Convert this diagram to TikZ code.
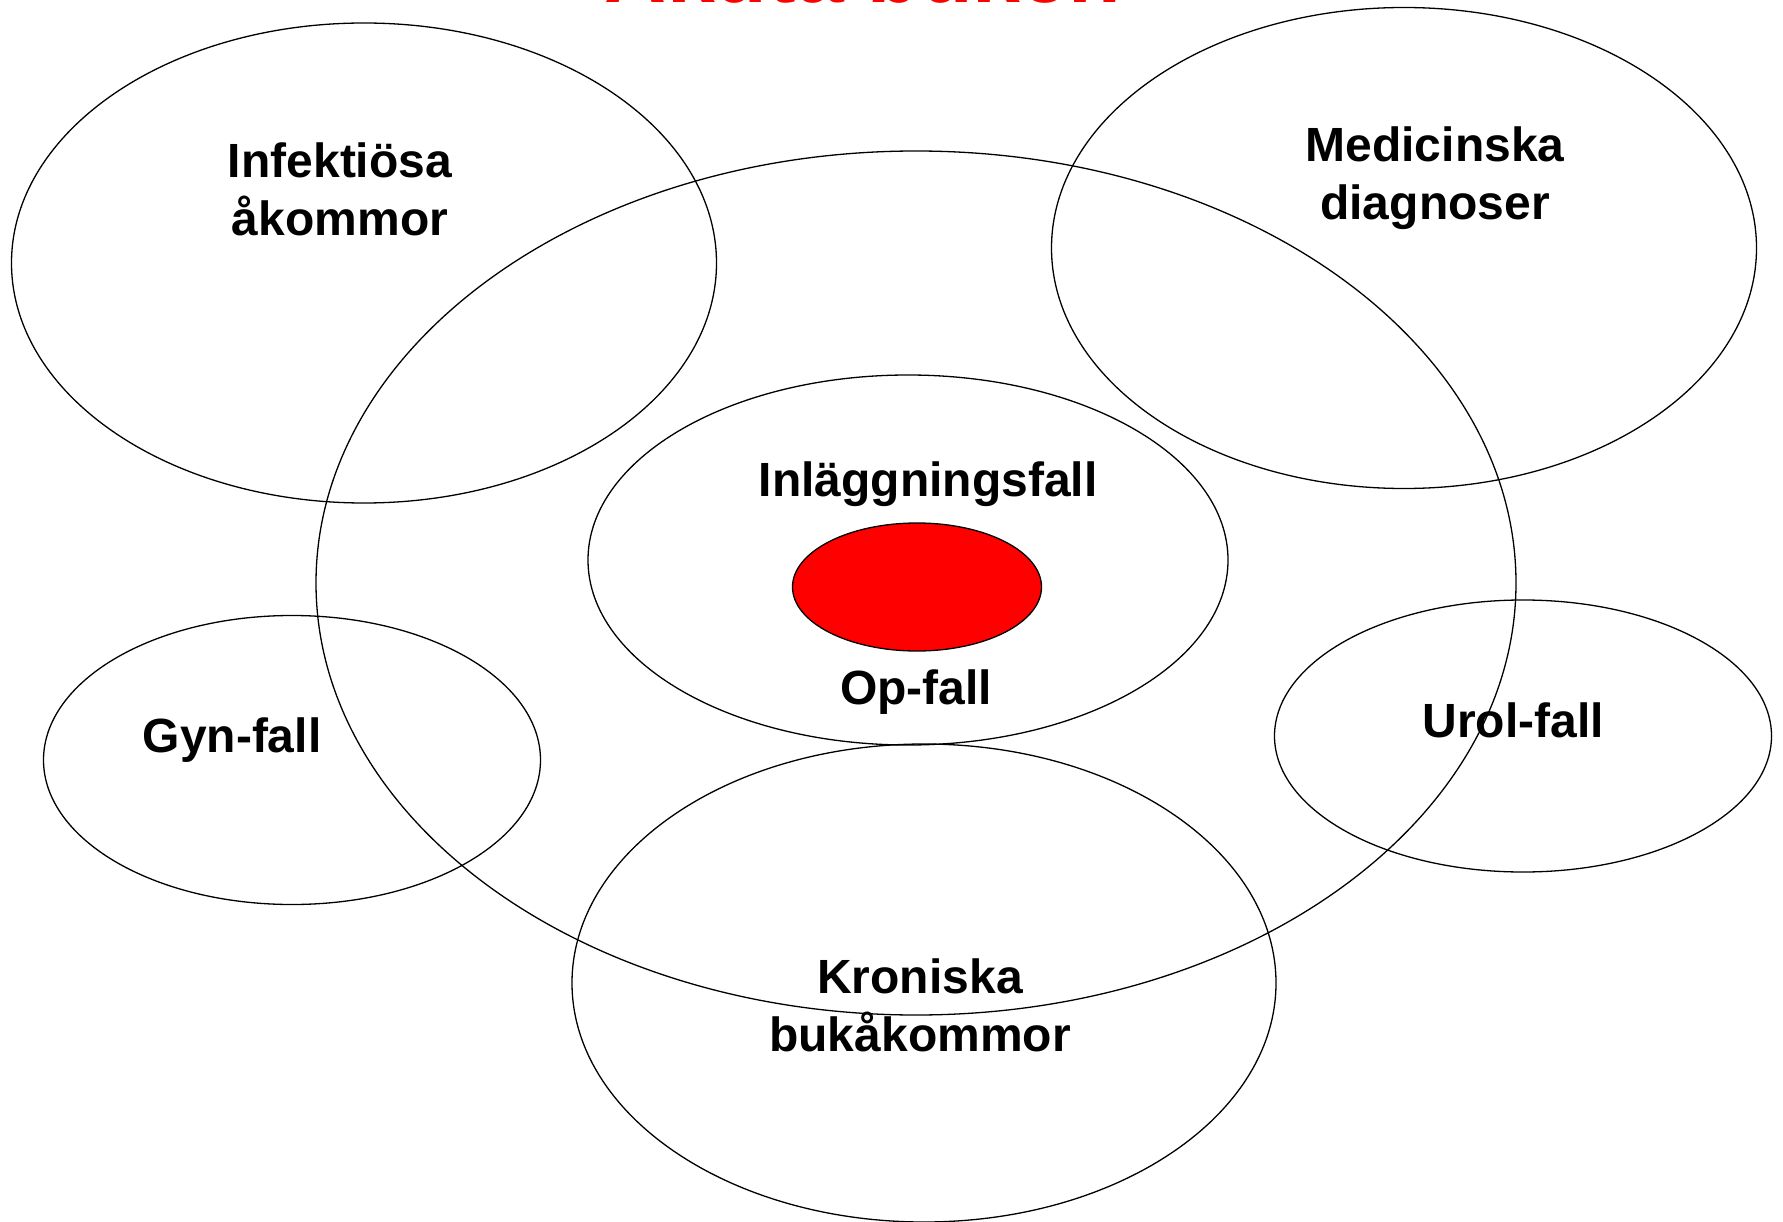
\documentclass[tikz,border=0pt]{standalone}
\usepackage{fontspec}
\setmainfont{Liberation Sans}
\usetikzlibrary{shapes.geometric}
\begin{document}
\begin{tikzpicture}[x=1pt,y=-1pt,
  ring/.style={draw=black,line width=1.3pt,ellipse,inner sep=0pt},
  lbl/.style={font=\fontsize{48}{58}\selectfont\bfseries,align=center,inner sep=0pt},
  ttl/.style={font=\fontsize{86}{100}\selectfont\bfseries,text=red,inner sep=0pt,anchor=base}]
\path[fill=white,use as bounding box] (0,0) rectangle (1783,1222);
\clip (0,0) rectangle (1783,1222);
\node[ttl] (title) at (863,3) {Akuta buken};
\node[ring,minimum width=705pt,minimum height=480pt] (inf) at (364,263) {};
\node[ring,minimum width=705pt,minimum height=481pt] (med) at (1404,248) {};
\node[ring,minimum width=1200pt,minimum height=864pt] (big) at (916,583) {};
\node[ring,minimum width=640pt,minimum height=370pt] (inl) at (908,560) {};
\node[ring,fill=red,minimum width=249pt,minimum height=128pt] (op) at (917,587) {};
\node[ring,minimum width=497pt,minimum height=289pt] (gyn) at (292,760) {};
\node[ring,minimum width=497pt,minimum height=272pt] (uro) at (1523,736) {};
\node[ring,minimum width=704pt,minimum height=478pt] (kro) at (924,983) {};
\node[lbl] (tinf) at (340,189) {Infektiösa\\åkommor};
\node[lbl] (tmed) at (1435,178) {Medicinska\\diagnoser};
\node[lbl] (tinl) at (928,484) {Inläggningsfall};
\node[lbl] (top) at (916,692) {Op-fall};
\node[lbl] (tgyn) at (232,740) {Gyn-fall};
\node[lbl] (turo) at (1513,720) {Urol-fall};
\node[lbl] (tkro) at (920,1005) {Kroniska\\bukåkommor};
\end{tikzpicture}
\end{document}
